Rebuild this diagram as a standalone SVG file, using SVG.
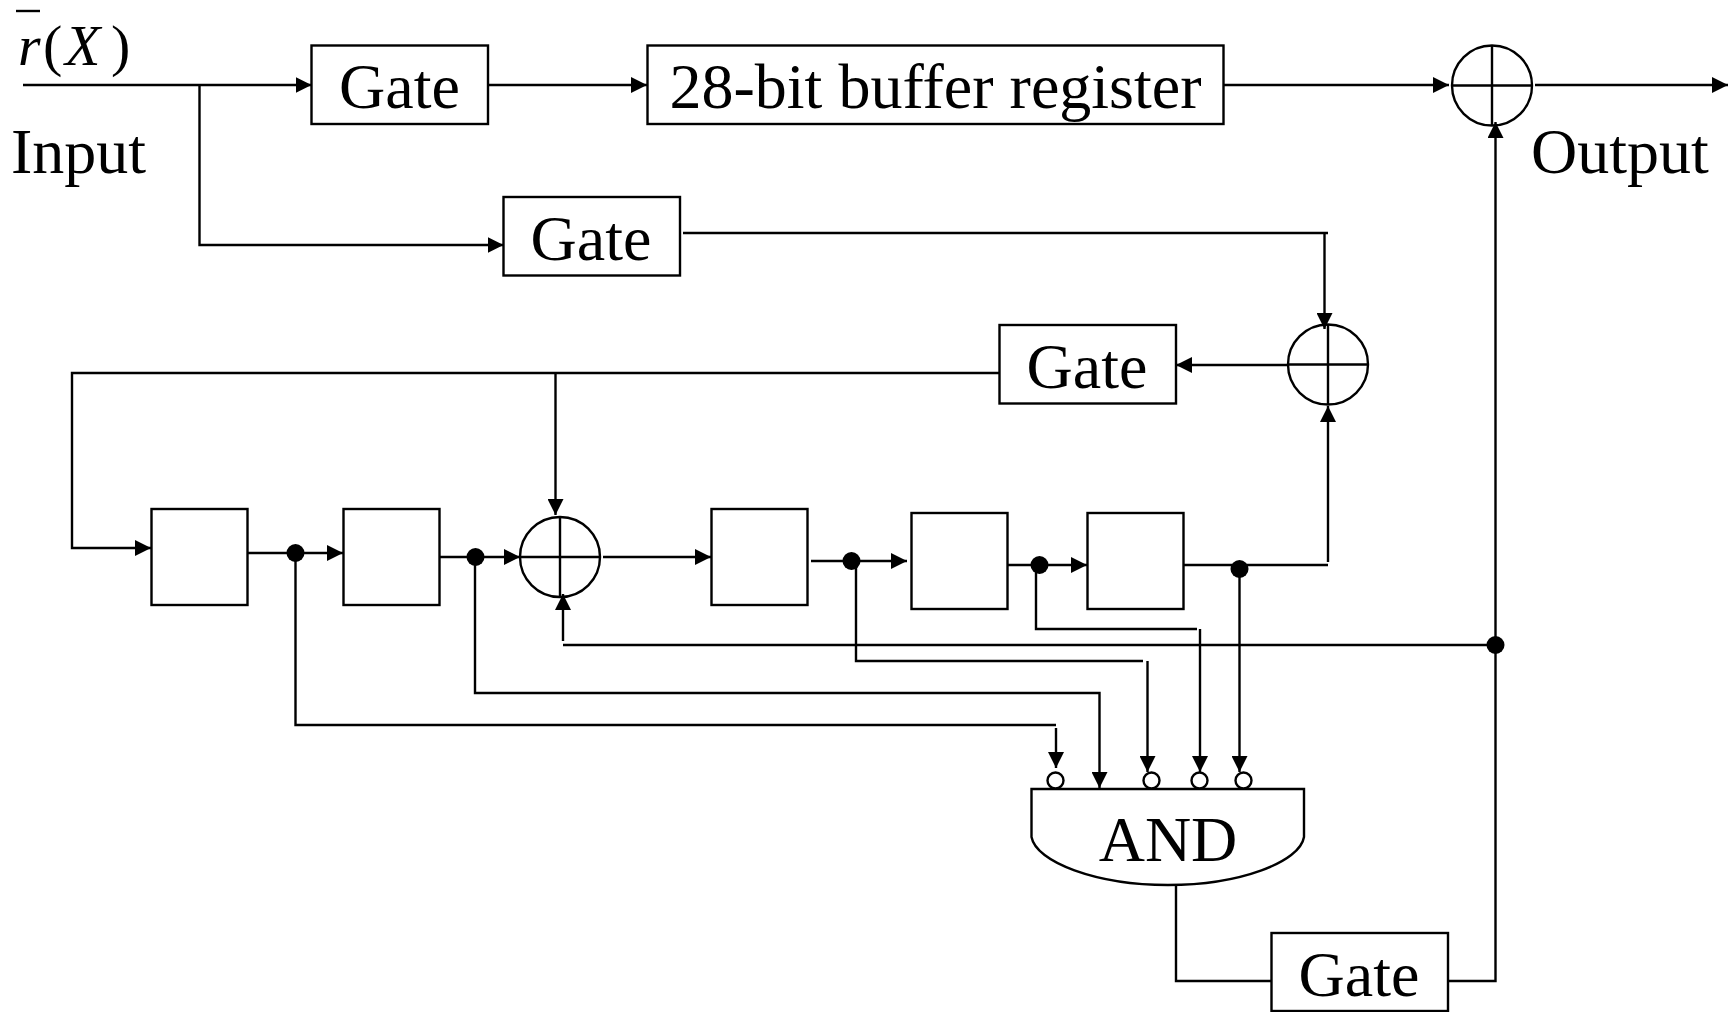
<svg xmlns="http://www.w3.org/2000/svg" width="1736" height="1012" viewBox="0 0 1736 1012">
<defs>
<style>
.b{fill:#fff;stroke:#000;stroke-width:2.4}
.c{fill:none;stroke:#000;stroke-width:2.4}
.w{fill:none;stroke:#000;stroke-width:2.4;stroke-linejoin:miter}
.a{marker-end:url(#arr)}
.d{fill:#000;stroke:none}
.t{font-family:"Liberation Serif","Times New Roman",serif;font-size:64px;fill:#000}
.m{text-anchor:middle}
.i{font-style:italic;font-size:58px}
.p{font-size:58px}
</style>
<marker id="arr" markerUnits="userSpaceOnUse" markerWidth="16" markerHeight="16" refX="16" refY="8" orient="auto" viewBox="0 0 16 16"><path d="M0 0L16 8L0 16Z" fill="#000"/></marker>
</defs>
<rect width="1736" height="1012" fill="#fff"/>
<g id="connectors">
<path class="w a" d="M23 85H311.500"/>
<path class="w a" d="M199.500 85V245H503.500"/>
<path class="w a" d="M488 85H647"/>
<path class="w a" d="M1224 85H1449"/>
<path class="w a" d="M1535 85H1728"/>
<path class="w" d="M683 233H1328"/>
<path class="w a" d="M1324.500 233V329"/>
<path class="w a" d="M1288 365H1176"/>
<path class="w a" d="M999.500 373H72V548H151"/>
<path class="w a" d="M555.500 373V515"/>
<path class="w a" d="M247 553H343"/>
<path class="w a" d="M440 557H520"/>
<path class="w a" d="M603 557H711"/>
<path class="w a" d="M811 561H907"/>
<path class="w a" d="M1007 565H1087"/>
<path class="w" d="M1184 565H1328"/>
<path class="w a" d="M1328 562V406"/>
<path class="w" d="M295.500 553V725H1056"/>
<path class="w a" d="M1056 728V768"/>
<path class="w a" d="M475 557V693H1099.500V788"/>
<path class="w" d="M856 561V661H1143"/>
<path class="w a" d="M1147.500 661V772"/>
<path class="w" d="M1036 565V629H1197"/>
<path class="w a" d="M1200 629V772"/>
<path class="w a" d="M1239.500 569V772"/>
<path class="w" d="M563 645H1495"/>
<path class="w a" d="M563 641V594"/>
<path class="w" d="M1176 885V981H1271"/>
<path class="w a" d="M1448 981H1495.500V122"/>
<path class="w" d="M16 11H40"/>
</g>
<g id="gate-1"><rect class="b" x="311.500" y="45.500" width="176.500" height="78.500"/><text class="t m" x="399.500" y="108">Gate</text></g>
<g id="buffer"><rect class="b" x="647.500" y="45.500" width="576" height="78.500"/><text class="t m" x="935.500" y="108">28-bit buffer register</text></g>
<g id="gate-2"><rect class="b" x="503.500" y="197" width="176.500" height="78.500"/><text class="t m" x="591" y="260">Gate</text></g>
<g id="gate-3"><rect class="b" x="999.500" y="325" width="176.500" height="78.500"/><text class="t m" x="1087" y="388">Gate</text></g>
<g id="gate-4"><rect class="b" x="1271.500" y="933" width="176.500" height="78"/><text class="t m" x="1359" y="996">Gate</text></g>
<g id="adder-1"><circle class="c" cx="1492" cy="85.500" r="40"/><path class="c" d="M1452 85.500H1532M1492 45.500V125.500"/></g>
<g id="adder-2"><circle class="c" cx="1328" cy="364.500" r="40"/><path class="c" d="M1288 364.500H1368M1328 324.500V404.500"/></g>
<g id="adder-3"><circle class="c" cx="560" cy="557" r="40"/><path class="c" d="M520 557H600M560 517V597"/></g>
<g id="reg-1"><rect class="b" x="151.500" y="509" width="96" height="96"/></g>
<g id="reg-2"><rect class="b" x="343.500" y="509" width="96" height="96"/></g>
<g id="reg-3"><rect class="b" x="711.500" y="509" width="96" height="96"/></g>
<g id="reg-4"><rect class="b" x="911.500" y="513" width="96" height="96"/></g>
<g id="reg-5"><rect class="b" x="1087.500" y="513" width="96" height="96"/></g>
<g id="junctions">
<circle class="d" cx="295.500" cy="553" r="9"/>
<circle class="d" cx="475.500" cy="557" r="9"/>
<circle class="d" cx="851.500" cy="561" r="9"/>
<circle class="d" cx="1039.500" cy="565" r="9"/>
<circle class="d" cx="1239.500" cy="569" r="9"/>
<circle class="d" cx="1495.500" cy="645" r="9"/>
</g>
<g id="and">
<path class="b" d="M1031.500 789H1304V837C1300 862 1240 885 1168 885C1096 885 1036 862 1031.500 837Z"/>
<circle class="b" cx="1055.500" cy="780.500" r="8"/>
<circle class="b" cx="1151.500" cy="780.500" r="8"/>
<circle class="b" cx="1199.500" cy="780.500" r="8"/>
<circle class="b" cx="1243.500" cy="780.500" r="8"/>
<text class="t m" x="1168" y="861">AND</text>
</g>
<g id="labels">
<text class="t i" x="18" y="65">r</text>
<text class="t p" x="43" y="65">(</text>
<text class="t i" x="65" y="65">X</text>
<text class="t p" x="111" y="65">)</text>
<text class="t" x="11" y="172.500">Input</text>
<text class="t" x="1531" y="172.500">Output</text>
</g>
</svg>
